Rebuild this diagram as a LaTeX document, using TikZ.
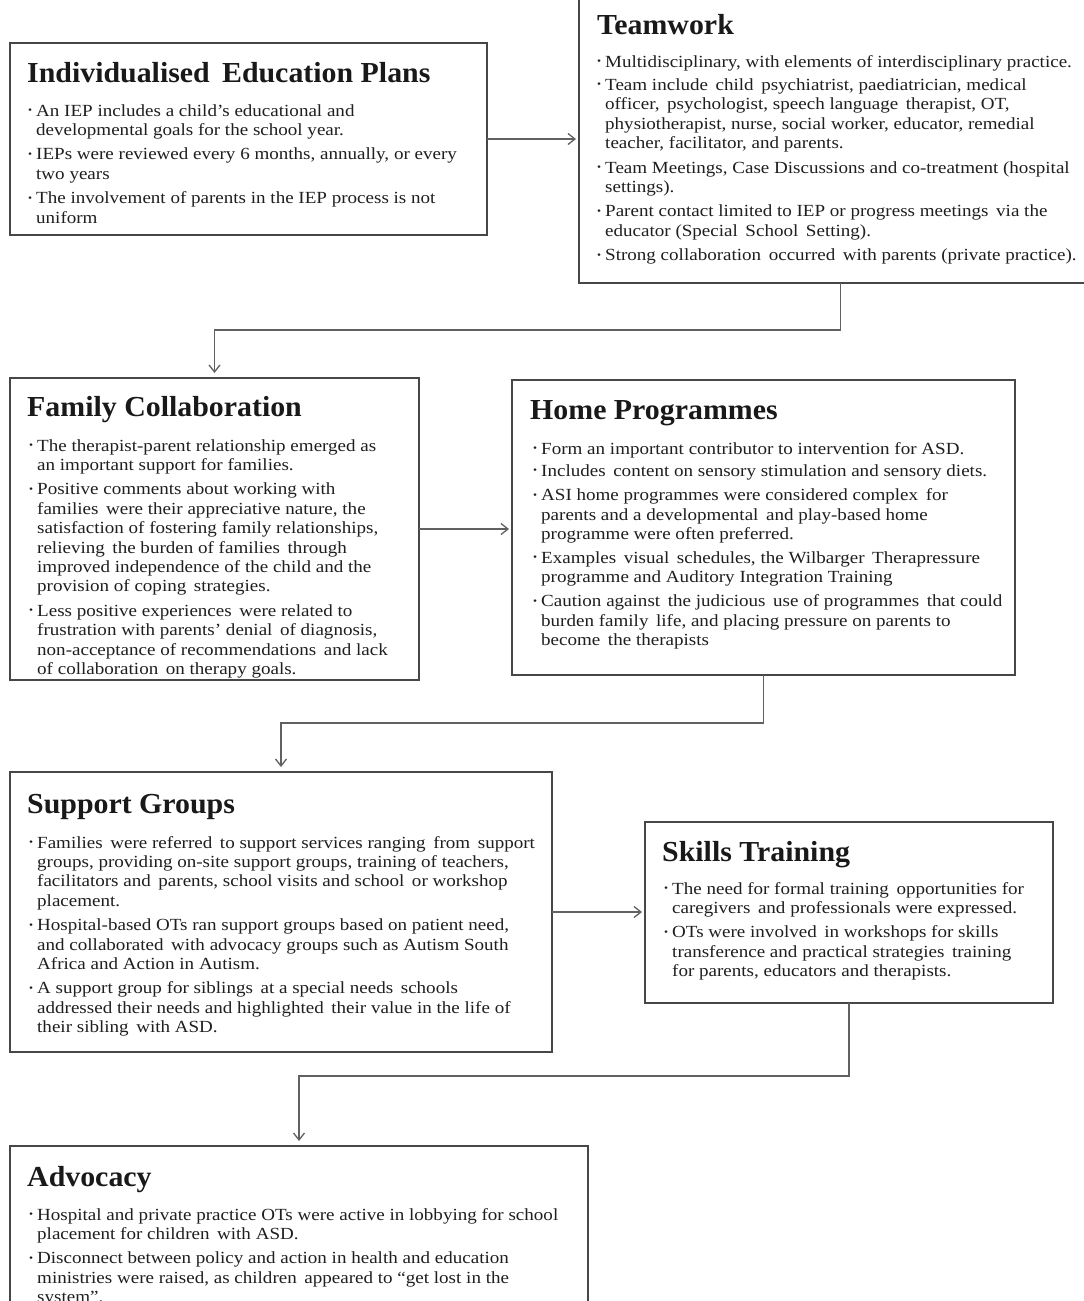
\documentclass[tikz,border=0pt]{standalone}
\usepackage{fontspec}
\setmainfont{Liberation Serif}
\newfontfamily\bodyfont[FakeStretch=1.12,Ligatures=TeX]{Liberation Serif}
\newfontfamily\titlefont[FakeStretch=1.03,Ligatures=TeX]{Liberation Serif}
\usetikzlibrary{arrows.meta}
\newcommand\bl{\strut\makebox[8pt][l]{\raisebox{.35ex}{\scalebox{.6}{\textbullet}}}}
\newcommand\ct{\hspace*{8pt}}
\tikzset{
 box/.style={draw=black!72, line width=1.6pt, anchor=north west, inner sep=0pt, outer sep=0pt},
 ttl/.style={font=\titlefont\fontsize{29}{32}\selectfont\bfseries, anchor=base west, inner sep=0pt, text=black!90},
 body/.style={font=\bodyfont\fontsize{17}{19.4}\selectfont, anchor=north west, inner sep=0pt, align=left, text=black!88},
 conn/.style={draw=black!62, line width=1.3pt, -{Straight Barb[length=7pt,width=11pt]}, shorten >=3pt},
 connv/.style={conn, shorten >=5pt},
}
\begin{document}
\begin{tikzpicture}[x=1pt,y=-1pt]
\useasboundingbox (0,0) rectangle (1084,1301);
\clip (0,0) rectangle (1084,1301);
\fill[white] (0,0) rectangle (1084,1301);
% boxes
\node[box, minimum width=477pt, minimum height=192pt] (iep) at (10,43) {};
\node[box, minimum width=523pt, minimum height=293pt] (tw) at (579,-10) {};
\node[box, minimum width=409pt, minimum height=302pt] (fam) at (10,378) {};
\node[box, minimum width=503pt, minimum height=295pt] (home) at (512,380) {};
\node[box, minimum width=542pt, minimum height=280pt] (sup) at (10,772) {};
\node[box, minimum width=408pt, minimum height=181pt] (sk) at (645,822) {};
\node[box, minimum width=578pt, minimum height=200pt] (adv) at (10,1146) {};
% titles
\node[ttl] (iept) at (27,82) {Individualised\, Education Plans};
\node[ttl] (twt) at (597,34) {Teamwork};
\node[ttl] (famt) at (27,416) {Family Collaboration};
\node[ttl] (homet) at (530,419) {Home Programmes};
\node[ttl] (supt) at (27,813) {Support Groups};
\node[ttl] (skt) at (662,861) {Skills Training};
\node[ttl] (advt) at (27,1186) {Advocacy};
% bodies
\node[body] (iepb) at (28,102.4) {%
\bl An IEP includes a child's educational and\\
\ct developmental goals for the school year.\\[5pt]
\bl IEPs were reviewed every 6 months, annually, or every\\
\ct two years\\[5pt]
\bl The involvement of parents in the IEP process is not\\
\ct uniform};
\node[body] (twb) at (597,53.4) {%
\bl Multidisciplinary, with elements of interdisciplinary practice.\\[4pt]
\bl Team include\, child\, psychiatrist, paediatrician, medical\\
\ct officer,\, psychologist, speech language\, therapist, OT,\\
\ct physiotherapist, nurse, social worker, educator, remedial\\
\ct teacher, facilitator, and parents.\\[5pt]
\bl Team Meetings, Case Discussions and co-treatment (hospital\\
\ct settings).\\[5pt]
\bl Parent contact limited to IEP or progress meetings\, via the\\
\ct educator (Special\, School\, Setting).\\[5pt]
\bl Strong collaboration\, occurred\, with parents (private practice).};
\node[body] (famb) at (29,437.4) {%
\bl The therapist-parent relationship emerged as\\
\ct an important support for families.\\[5pt]
\bl Positive comments about working with\\
\ct families\, were their appreciative nature, the\\
\ct satisfaction of fostering family relationships,\\
\ct relieving\, the burden of families\, through\\
\ct improved independence of the child and the\\
\ct provision of coping\, strategies.\\[5pt]
\bl Less positive experiences\, were related to\\
\ct frustration with parents' denial\, of diagnosis,\\
\ct non-acceptance of recommendations\, and lack\\
\ct of collaboration\, on therapy goals.};
\node[body] (homeb) at (533,440.4) {%
\bl Form an important contributor to intervention for ASD.\\[3pt]
\bl Includes\, content on sensory stimulation and sensory diets.\\[5pt]
\bl ASI home programmes were considered complex\, for\\
\ct parents and a developmental\, and play-based home\\
\ct programme were often preferred.\\[4pt]
\bl Examples\, visual\, schedules, the Wilbarger\, Therapressure\\
\ct programme and Auditory Integration Training\\[5pt]
\bl Caution against\, the judicious\, use of programmes\, that could\\
\ct burden family\, life, and placing pressure on parents to\\
\ct become\, the therapists};
\node[body] (supb) at (29,834.4) {%
\bl Families\, were referred\, to support services ranging\, from\, support\\
\ct groups, providing on-site support groups, training of teachers,\\
\ct facilitators and\, parents, school visits and school\, or workshop\\
\ct placement.\\[5pt]
\bl Hospital-based OTs ran support groups based on patient need,\\
\ct and collaborated\, with advocacy groups such as Autism South\\
\ct Africa and Action in Autism.\\[5pt]
\bl A support group for siblings\, at a special needs\, schools\\
\ct addressed their needs and highlighted\, their value in the life of\\
\ct their sibling\, with ASD.};
\node[body] (skb) at (664,880.4) {%
\bl The need for formal training\, opportunities for\\
\ct caregivers\, and professionals were expressed.\\[5pt]
\bl OTs were involved\, in workshops for skills\\
\ct transference and practical strategies\, training\\
\ct for parents, educators and therapists.};
\node[body] (advb) at (29,1206.4) {%
\bl Hospital and private practice OTs were active in lobbying for school\\
\ct placement for children\, with ASD.\\[5pt]
\bl Disconnect between policy and action in health and education\\
\ct ministries were raised, as children\, appeared to ``get lost in the\\
\ct system''.};
% connectors
\draw[conn] (iep.east) -- (iep.east -| tw.west);
\draw[connv] (tw.south) -- ++(0,47) -| (fam.north);
\draw[conn] (fam.east) -- (fam.east -| home.west);
\draw[connv] (home.south) -- ++(0,48) -| (sup.north);
\draw[conn] (sup.east) -- (sup.east -| sk.west);
\draw[connv] (sk.south) -- ++(0,73) -| (adv.north);
\end{tikzpicture}
\end{document}
